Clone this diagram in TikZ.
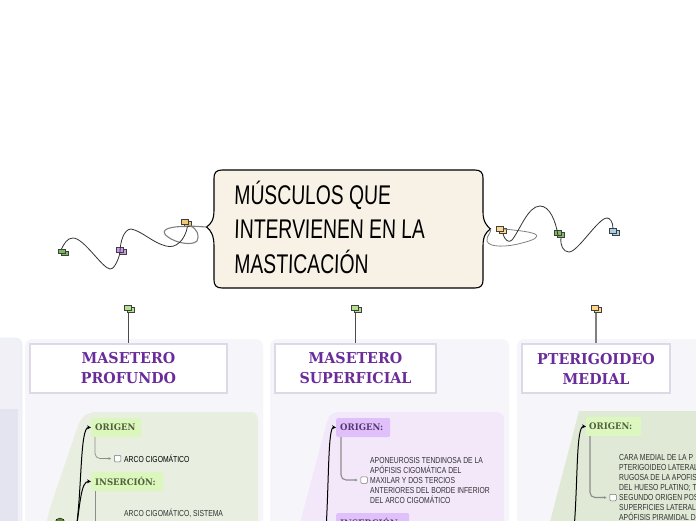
\documentclass[tikz,border=0pt]{standalone}
\usepackage{fontspec}
\setmainfont{Liberation Sans}
\newfontfamily\handfont[FakeStretch=0.715,FakeSlant=0.03]{Liberation Sans}
\newfontfamily\slabfont[FakeStretch=0.95]{DejaVu Serif}[BoldFont={DejaVu Serif Bold}]
\newfontfamily\smallfont[FakeStretch=0.78]{Liberation Sans}
\usetikzlibrary{arrows.meta}
\definecolor{panelbg}{HTML}{F6F6FA}
\definecolor{boxedge}{HTML}{DDD9E8}
\definecolor{headpurple}{HTML}{6A2C9A}
\definecolor{rootfill}{HTML}{F8F2E6}
\definecolor{mgreen}{HTML}{7DBB60}
\definecolor{mlight}{HTML}{B5E08F}
\definecolor{myellow}{HTML}{FFD98A}
\definecolor{mtan}{HTML}{F0C878}
\definecolor{mpurple}{HTML}{CC99EE}
\definecolor{mblue}{HTML}{A8D0E8}
\tikzset{
  panel/.style={fill=panelbg,draw=none,rounded corners=7},
  headbox/.style={draw=boxedge,line width=2,fill=white,minimum height=49,inner sep=0,
    align=center,font=\slabfont\bfseries\fontsize{15}{20}\selectfont,text=headpurple},
  subhead/.style={minimum height=19,inner sep=0,anchor=west,rounded corners=2},
  subtext/.style={anchor=west,inner sep=0,font=\slabfont\bfseries\fontsize{9}{10}\selectfont},
  bodytext/.style={anchor=west,inner sep=0,align=left,text=black!80,
    font=\smallfont\fontsize{8.7}{10}\selectfont},
  check/.style={draw=black!55,fill=white,line width=.5,rounded corners=1,minimum size=6.5,inner sep=0},
  grayline/.style={draw=black!45,line width=1.1,rounded corners=5,-{Stealth[length=2.5,width=2.5]}},
  blackcurve/.style={draw=black,line width=1,-{Stealth[length=4,width=4]}},
  squiggle/.style={draw=black!80,line width=.8},
  thickstem/.style={draw=black!50,line width=1.5},
  mark a/.style={draw=black!75,line width=.6,minimum width=7,minimum height=4.5,inner sep=0},
}
\newcommand{\flagmark}[4]{%
  \node[mark a,fill=#4] (#1b) at (#2+3,#3+2) {};
  \node[mark a,fill=#4] (#1) at (#2,#3) {};}
\begin{document}
\begin{tikzpicture}[x=1pt,y=-1pt]
\useasboundingbox (0,0) rectangle (696,520);
\clip (0,0) rectangle (696,520);
\fill[white] (0,0) rectangle (696,520);
% panels
\path[panel,fill={rgb,255:red,240;green,240;blue,246},draw={rgb,255:red,228;green,238;blue,248},line width=.8] (-20,338) rectangle (22,560);
\fill[fill={rgb,255:red,228;green,228;blue,240}] (-20,409) rectangle (18,560);
\path[panel] (25,339) rectangle (263,560);
\path[panel] (270,339) rectangle (509,560);
\path[panel] (517,339) rectangle (720,560);
% coloured regions
\fill[rounded corners=7,fill={rgb,255:red,232;green,238;blue,224}] (88,412) -- (258,412) -- (258,560) -- (38,560) -- (50,508) -- (80,420) -- cycle;
\fill[rounded corners=7,fill={rgb,255:red,243;green,232;blue,250}] (332,412) -- (504,412) -- (504,560) -- (290,560) -- (328,418) -- cycle;
\fill[fill={rgb,255:red,223;green,233;blue,213}] (579,411) -- (720,411) -- (720,560) -- (540,560) -- cycle;
% head boxes
\node[headbox,minimum width=197] (h1) at (128.5,368.5) {MASETERO\\PROFUNDO};
\node[headbox,minimum width=161] (h2) at (355.5,368.5) {MASETERO\\SUPERFICIAL};
\node[headbox,minimum width=148] (h3) at (596,368.5) {PTERIGOIDEO\\MEDIAL};
% stems
\flagmark{m1}{128}{308}{mlight}
\flagmark{m2}{355}{308}{mlight}
\flagmark{m3}{595}{308}{myellow}
\draw[thickstem,black!70,line width=1] (m1b.south -| h1.north) -- (h1.north);
\draw[thickstem,black!70,line width=1] (m2b.south -| h2.north) -- (h2.north);
\draw[thickstem] (m3b.south -| h3.north) -- (h3.north);
% root
\coordinate (notchL) at (206.5,227);
\coordinate (notchR) at (490.5,229);
\draw[fill=rootfill,draw=black,line width=1.1]
  (222,170) -- (475,170) .. controls (481,170) and (483,173) .. (483,178)
  -- (483,212) .. controls (483,222) and (487,226) .. (notchR)
  .. controls (486,232) and (483,236) .. (483,246)
  -- (483,280) .. controls (483,285) and (481,288) .. (475,288)
  -- (222,288) .. controls (216,288) and (214,285) .. (214,280)
  -- (214,246) .. controls (214,236) and (211,230) .. (notchL)
  .. controls (211,224) and (214,220) .. (214,210)
  -- (214,178) .. controls (214,173) and (216,170) .. (222,170) -- cycle;
\node[anchor=west,inner sep=0] (t1) at (234,195) {\handfont\fontsize{27}{30}\selectfont MÚSCULOS QUE};
\node[anchor=west,inner sep=0] (t2) at (234,229) {\handfont\fontsize{27}{30}\selectfont INTERVIENEN EN LA};
\node[anchor=west,inner sep=0] (t3) at (234,262) {\handfont\fontsize{27}{30}\selectfont MASTICACIÓN};
% left branch
\flagmark{l1}{184.5}{222}{mtan}
\flagmark{l2}{120}{250}{mpurple}
\flagmark{l3}{61.5}{251.5}{mgreen}
\draw[thickstem,line width=1.1] (notchL) -- (190,226) .. controls (197,228) and (200,236) .. (197,241)
  .. controls (192,246) and (176,243) .. (168,237) .. controls (157,229) and (172,226) .. (l1b.south);
\draw[squiggle] (l1b.south) .. controls (185,240) and (176,249) .. (166,246)
  .. controls (153,243) and (142,231) .. (131,229) .. controls (124,229) and (120,242) .. (l2.south);
\draw[squiggle] (l2.south) .. controls (118,262) and (113,270) .. (110,269)
  .. controls (102,268) and (84,238) .. (73,238) .. controls (67,238) and (64,244) .. (l3.north);
% right branch
\flagmark{r1}{500}{229}{myellow}
\flagmark{r2}{558}{233}{mgreen}
\flagmark{r3}{613}{231}{mblue}
\draw[thickstem,line width=.8] (notchR) .. controls (492,232) and (486,236) .. (487,241)
  .. controls (489,248) and (508,247) .. (522,243) .. controls (534,240) and (540,237) .. (535,234)
  .. controls (528,231) and (512,230) .. (r1.east);
\draw[squiggle] (r1b.south) .. controls (505,241) and (509,243) .. (512,240)
  .. controls (520,230) and (528,206) .. (540,206) .. controls (550,206) and (556,222) .. (r2.south);
\draw[squiggle] (r2b.south) .. controls (560,245) and (563,252) .. (569,252)
  .. controls (578,252) and (598,218) .. (607,218) .. controls (610,218) and (613,222) .. (r3.north);
% region 1
\node[subhead,minimum width=50,fill={rgb,255:red,220;green,247;blue,189}] (o1) at (91,427.5) {};
\node[subtext,text={rgb,255:red,80;green,95;blue,60}] (o1t) at (95,427.5) {ORIGEN};
\node[subhead,minimum width=72,fill={rgb,255:red,220;green,247;blue,189}] (i1) at (91,481.5) {};
\node[subtext,text={rgb,255:red,80;green,95;blue,60}] (i1t) at (95,481.5) {INSERCIÓN:};
\node[check] (c1) at (117.5,458.5) {};
\node[bodytext,text=black] (b1) at (124,458.5) {ARCO CIGOMÁTICO};
\node[check] (c2) at (117.5,526) {};
\node[bodytext] (b2) at (124,513) {ARCO CIGOMÁTICO, SISTEMA};
\draw[grayline,line width=.7] (95,437) |- ([xshift=-3]c1.west);
\draw[draw=black!45,line width=.8] (95,491) -- (95,530);
\coordinate (s1) at (76,530);
\draw[fill={rgb,255:red,90;green,138;blue,42}] (60,523) circle (5);
\draw[blackcurve] (s1) .. controls (82,490) and (80,427) .. (o1.west);
\draw[blackcurve] (s1) .. controls (80,505) and (81,481) .. (i1.west);
% region 2
\node[subhead,minimum width=54,fill={rgb,255:red,224;green,192;blue,250}] (o2) at (336,427.5) {};
\node[subtext,text={rgb,255:red,85;green,55;blue,115}] (o2t) at (340,427.5) {ORIGEN:};
\node[subhead,minimum width=73,fill={rgb,255:red,224;green,192;blue,250}] (i2) at (336,522.5) {};
\node[subtext,text={rgb,255:red,85;green,55;blue,115}] (i2t) at (340,522.5) {INSERCIÓN:};
\node[check] (c3) at (364,480) {};
\node[bodytext] (b3) at (370,480) {APONEUROSIS TENDINOSA DE LA\\APÓFISIS CIGOMÁTICA DEL\\MAXILAR Y DOS TERCIOS\\ANTERIORES DEL BORDE INFERIOR\\DEL ARCO CIGOMÁTICO};
\draw[grayline] (341,437) |- ([xshift=-3]c3.west);
\coordinate (s2) at (326,530);
\draw[blackcurve] (s2) .. controls (329,480) and (328,427) .. (o2.west);
% region 3
\node[subhead,minimum width=55,fill={rgb,255:red,220;green,247;blue,191}] (o3) at (586,426.5) {};
\node[subtext,text={rgb,255:red,80;green,95;blue,60}] (o3t) at (589,426.5) {ORIGEN:};
\node[check] (c4) at (613,497.5) {};
\node[bodytext] (b4) at (619,487.5) {CARA MEDIAL DE LA P\\PTERIGOIDEO LATERAL\\RUGOSA DE LA APOFIS\\DEL HUESO PLATINO; T\\SEGUNDO ORIGEN POS\\SUPERFICIES LATERALI\\APÓFISIS PIRAMIDAL D};
\draw[grayline] (590,436) |- ([xshift=-3]c4.west);
\coordinate (s3) at (574,530);
\draw[blackcurve] (s3) .. controls (578,480) and (576,426) .. (o3.west);
\end{tikzpicture}
\end{document}
